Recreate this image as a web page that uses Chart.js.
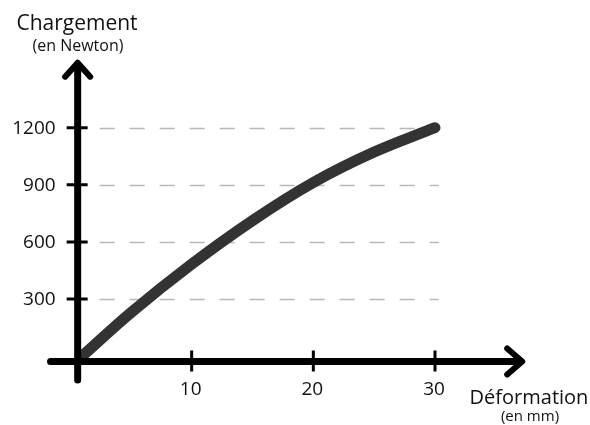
<!DOCTYPE html>
<html>
<head>
<meta charset="utf-8">
<script src="https://cdn.jsdelivr.net/npm/chart.js@4.4.1/dist/chart.umd.min.js"></script>
<style>
  html, body { margin: 0; padding: 0; background: #fff; }
  #wrap { width: 590px; height: 425px; position: relative; }
</style>
</head>
<body>
<div id="wrap"><canvas id="chart"></canvas></div>
<script>
// values
const deformation = [1, 5, 10, 15, 20, 25, 30];
const chargement = [0, 228, 483, 712, 912, 1072, 1200];
const xTicks = [10, 20, 30];
const yTicks = [300, 600, 900, 1200];

const FONT = '"Open Sans", "Noto Sans", sans-serif';

// draws the hand-made axes, arrows, dashed guides and labels
const axesPlugin = {
  id: 'axesPlugin',
  beforeDatasetsDraw(chart) {
    const ctx = chart.ctx;
    const x = chart.scales.x, y = chart.scales.y;
    const ax = x.getPixelForValue(0.63);   // where the vertical axis sits

    ctx.save();
    // dashed guides
    ctx.strokeStyle = '#b8b8b8';
    ctx.lineWidth = 1.5;
    ctx.setLineDash([15, 15]);
    yTicks.forEach(v => {
      const py = Math.round(y.getPixelForValue(v)) + 0.5;
      ctx.beginPath();
      ctx.moveTo(ax + 22, py);
      ctx.lineTo(x.getPixelForValue(30.3), py);
      ctx.stroke();
    });
    ctx.setLineDash([]);
    ctx.restore();
  },
  afterDatasetsDraw(chart) {
    const ctx = chart.ctx;
    const x = chart.scales.x, y = chart.scales.y;
    const ax = x.getPixelForValue(0.63);
    const ay = y.getPixelForValue(-28);    // where the horizontal axis sits
    const topTip = y.getPixelForValue(1547);
    const rightTip = x.getPixelForValue(37.25);

    ctx.save();
    ctx.strokeStyle = '#000';
    ctx.lineCap = 'round';
    ctx.lineJoin = 'round';

    // axis lines
    ctx.lineWidth = 7;
    ctx.beginPath();
    ctx.moveTo(ax, y.getPixelForValue(-125));
    ctx.lineTo(ax, topTip + 3);
    ctx.moveTo(x.getPixelForValue(-1.6), ay);
    ctx.lineTo(rightTip - 3, ay);
    ctx.stroke();

    // arrow heads
    ctx.lineWidth = 6;
    ctx.beginPath();
    ctx.moveTo(ax - 12.5, topTip + 15);
    ctx.lineTo(ax, topTip + 1);
    ctx.lineTo(ax + 12.5, topTip + 15);
    ctx.moveTo(rightTip - 16, ay - 13);
    ctx.lineTo(rightTip - 1, ay);
    ctx.lineTo(rightTip - 16, ay + 13);
    ctx.stroke();

    // tick marks
    ctx.lineWidth = 3;
    ctx.lineCap = 'butt';
    ctx.beginPath();
    yTicks.forEach(v => {
      const py = y.getPixelForValue(v);
      ctx.moveTo(ax - 11, py);
      ctx.lineTo(ax + 10, py);
    });
    xTicks.forEach(v => {
      const px = x.getPixelForValue(v);
      ctx.moveTo(px, ay - 11);
      ctx.lineTo(px, ay + 10);
    });
    ctx.stroke();

    // tick labels
    ctx.fillStyle = '#111';
    ctx.font = '19px ' + FONT;
    ctx.textAlign = 'right';
    ctx.textBaseline = 'middle';
    yTicks.forEach(v => ctx.fillText(String(v), ax - 22, y.getPixelForValue(v) + 1));
    ctx.textAlign = 'center';
    xTicks.forEach(v => ctx.fillText(String(v), x.getPixelForValue(v) - 1, ay + 28));

    // axis titles
    ctx.textBaseline = 'alphabetic';
    ctx.font = '21px ' + FONT;
    ctx.fillText('Chargement', 77, 30);
    ctx.font = '16px ' + FONT;
    ctx.fillText('(en Newton)', 78, 51);
    ctx.font = '20px ' + FONT;
    ctx.fillText('Déformation', 529, 404);
    ctx.font = '15px ' + FONT;
    ctx.fillText('(en mm)', 530, 421);
    ctx.restore();
  }
};

new Chart(document.getElementById('chart'), {
  type: 'scatter',
  data: {
    datasets: [{
      data: deformation.map((d, i) => ({ x: d, y: chargement[i] })),
      showLine: true,
      borderColor: '#333333',
      borderWidth: 11,
      borderCapStyle: 'round',
      borderJoinStyle: 'round',
      pointRadius: 0,
      tension: 0.35,
      clip: false
    }]
  },
  options: {
    responsive: true,
    maintainAspectRatio: false,
    animation: false,
    layout: { padding: { left: 70, right: 155, top: 127.7, bottom: 68.9 } },
    plugins: { legend: { display: false }, tooltip: { enabled: false } },
    scales: {
      x: { type: 'linear', min: 0, max: 30, display: false },
      y: { type: 'linear', min: 0, max: 1200, display: false }
    }
  },
  plugins: [axesPlugin]
});
</script>
</body>
</html>
